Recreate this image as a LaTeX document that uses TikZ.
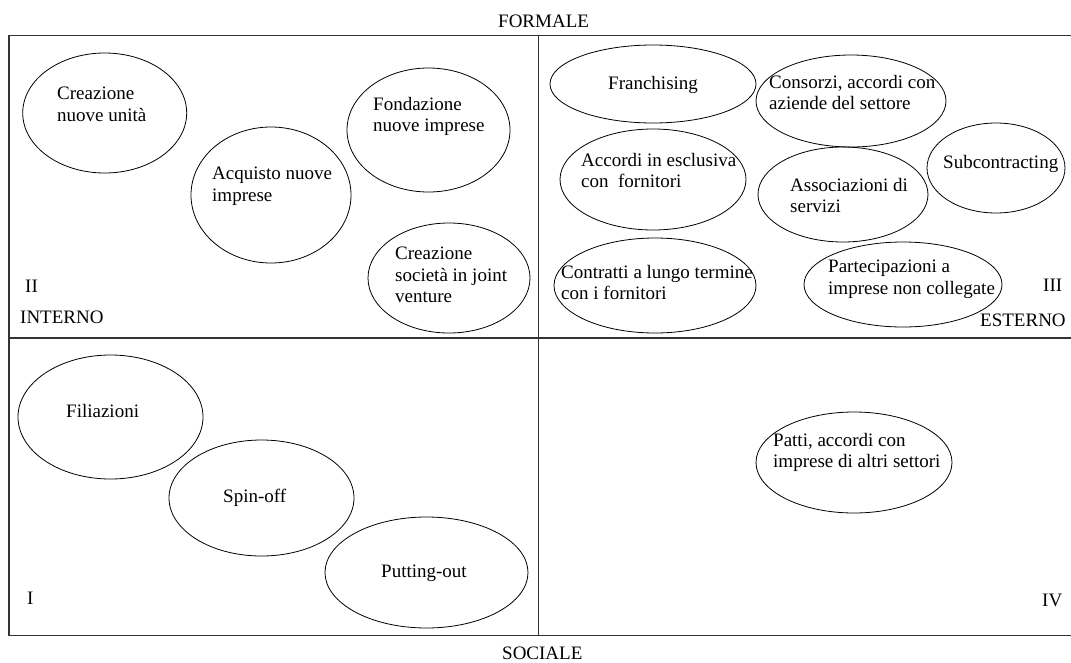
\documentclass[tikz,border=0pt]{standalone}
\usepackage{fontspec}
\setmainfont{Liberation Serif}
\usetikzlibrary{positioning,shapes.geometric}
\newcommand{\fsz}{\fontsize{19}{21.7}\selectfont}

\begin{document}
\begin{tikzpicture}[
x = 1pt, y = -1pt,
every node/.style = {
	font = \fsz
},
form/.style = {
	draw,
	ellipse,
	line width = 0.8pt,
	inner sep = 0pt
},
form text/.style = {
	align = left,
	inner sep = 0pt,
	anchor = north west,
	execute at begin node = \strut
},
axis label/.style = {
	inner sep = 0pt,
	anchor = base west
},
frame/.style = {
	line width = 1.3pt,
	draw = black!80
}
]
\useasboundingbox (0,0) rectangle (1071,662);

% quadranti
\draw[frame] (1071,35.5) -- (9,35.5) -- (9,635.5) -- (1071,635.5);
\draw[frame] (9,338) -- (1071,338);
\draw[frame] (538.5,35.5) -- (538.5,635.5);

\node[axis label] (formale) at (498,27) {FORMALE};
\node[axis label] (sociale) at (502,659) {SOCIALE};
\node[axis label] (q2) at (25,292) {II};
\node[axis label] (interno) at (20,323) {INTERNO};
\node[axis label] (q3) at (1043,291) {III};
\node[axis label] (esterno) at (980,326) {ESTERNO};
\node[axis label] (q1) at (27,604) {I};
\node[axis label] (q4) at (1042,606) {IV};

% II - interno formale
\node[form, minimum width=164, minimum height=120] (crea) at (104.7,113) {};
\node[form text] (crea-t) at (57,86.8) {Creazione\\nuove unità};
\node[form, minimum width=160, minimum height=136] (acq) at (271,195) {};
\node[form text] (acq-t) at (212,166.8) {Acquisto nuove\\imprese};
\node[form, minimum width=163, minimum height=124] (fond) at (428.5,130) {};
\node[form text] (fond-t) at (373,96.8) {Fondazione\\nuove imprese};
\node[form, minimum width=162, minimum height=110] (jv) at (449,278) {};
\node[form text] (jv-t) at (395,246.8) {Creazione\\società in joint\\venture};

% III - esterno formale
\node[form, minimum width=206, minimum height=78] (franch) at (653,84) {};
\node[form text] (franch-t) at (608,73.8) {Franchising};
\node[form, minimum width=190, minimum height=92] (cons) at (851,101) {};
\node[form text] (cons-t) at (769,74.8) {Consorzi, accordi con\\aziende del settore};
\node[form, minimum width=186, minimum height=101] (escl) at (653,179.5) {};
\node[form text] (escl-t) at (581,152.8) {Accordi in esclusiva\\con\ \ fornitori};
\node[form, minimum width=170, minimum height=95] (assoc) at (843,194.5) {};
\node[form text] (assoc-t) at (790,177.8) {Associazioni di\\servizi};
\node[form, minimum width=138, minimum height=90] (subc) at (996,168) {};
\node[form text] (subc-t) at (943,152.8) {Subcontracting};
\node[form, minimum width=202, minimum height=95] (contr) at (655,285.5) {};
\node[form text] (contr-t) at (561,264.8) {Contratti a lungo termine\\con i fornitori};
\node[form, minimum width=198, minimum height=85] (part) at (903,284.5) {};
\node[form text] (part-t) at (828,259.8) {Partecipazioni a\\imprese non collegate};

% I - interno sociale
\node[form, minimum width=185, minimum height=124] (fil) at (110.5,417) {};
\node[form text] (fil-t) at (66,401.8) {Filiazioni};
\node[form, minimum width=185, minimum height=116] (spin) at (261.5,498) {};
\node[form text] (spin-t) at (223,486.8) {Spin-off};
\node[form, minimum width=203, minimum height=111] (putout) at (426.5,572.5) {};
\node[form text] (putout-t) at (381,561.8) {Putting-out};

% IV - esterno sociale
\node[form, minimum width=196, minimum height=101] (patti) at (854,462.5) {};
\node[form text] (patti-t) at (773,432.8) {Patti, accordi con\\imprese di altri settori};

\end{tikzpicture}
\end{document}
